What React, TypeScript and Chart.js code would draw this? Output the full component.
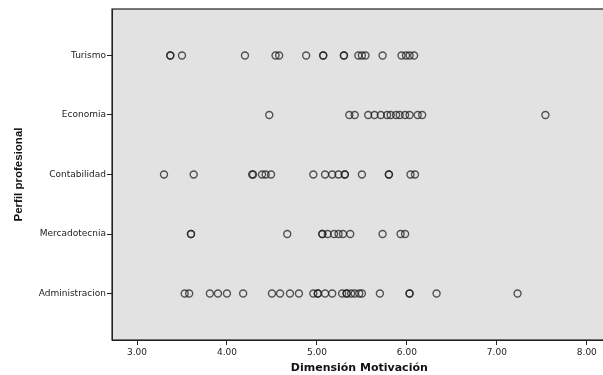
import React, { useEffect, useRef } from "react";
import { Chart, registerables } from "chart.js";

Chart.register(...registerables);

const categories = ["Administracion", "Mercadotecnia", "Contabilidad", "Economia", "Turismo"];

const administracion = [3.53, 3.58, 3.81, 3.9, 4.0, 4.18, 4.5, 4.59, 4.7, 4.8, 4.96, 5.01, 5.01, 5.09, 5.17, 5.28, 5.33, 5.33, 5.38, 5.42, 5.47, 5.5, 5.7, 6.03, 6.03, 6.33, 7.23];
const mercadotecnia = [3.6, 3.6, 4.67, 5.06, 5.06, 5.12, 5.19, 5.24, 5.29, 5.37, 5.73, 5.93, 5.98];
const contabilidad = [3.3, 3.63, 4.28, 4.29, 4.39, 4.43, 4.49, 4.96, 5.09, 5.17, 5.24, 5.31, 5.31, 5.5, 5.8, 5.8, 6.04, 6.09];
const economia = [4.47, 5.36, 5.42, 5.57, 5.64, 5.71, 5.78, 5.82, 5.88, 5.92, 5.98, 6.03, 6.12, 6.17, 7.54];
const turismo = [3.37, 3.37, 3.5, 4.2, 4.54, 4.58, 4.88, 5.07, 5.07, 5.3, 5.3, 5.46, 5.5, 5.54, 5.73, 5.94, 5.99, 6.03, 6.08];

const seriesByCategory = [administracion, mercadotecnia, contabilidad, economia, turismo];
const xTicks = [3, 4, 5, 6, 7, 8];

const bgPlugin = {
  id: "plotBg",
  beforeDraw(chart: any) {
    const { ctx, chartArea } = chart;
    ctx.save();
    ctx.fillStyle = "#e2e2e2";
    ctx.fillRect(chartArea.left, chartArea.top, chartArea.right - chartArea.left, chartArea.bottom - chartArea.top);
    ctx.restore();
  },
  afterDraw(chart: any) {
    const { ctx, chartArea } = chart;
    ctx.save();
    ctx.strokeStyle = "#222";
    ctx.lineWidth = 1.2;
    ctx.strokeRect(chartArea.left, chartArea.top, chartArea.right - chartArea.left, chartArea.bottom - chartArea.top);
    ctx.restore();
  },
};

export default function App() {
  const ref = useRef<HTMLCanvasElement>(null);
  useEffect(() => {
    document.body.style.margin = "0";
    const points: { x: number; y: number }[] = [];
    seriesByCategory.forEach((vals, i) => vals.forEach((v) => points.push({ x: v, y: i + 1 })));
    const chart = new Chart(ref.current!, {
      type: "scatter",
      data: {
        datasets: [
          {
            data: points,
            pointRadius: 3.5,
            pointBorderWidth: 1.4,
            pointBorderColor: "rgba(25,25,25,0.72)",
            pointBackgroundColor: "rgba(0,0,0,0)",
          },
        ],
      },
      options: {
        animation: false,
        responsive: false,
        layout: { padding: { top: 9, right: 0, left: 0, bottom: 0 } },
        plugins: { legend: { display: false }, tooltip: { enabled: false } },
        scales: {
          x: {
            type: "linear",
            min: 2.722,
            max: 8.22,
            afterBuildTicks: (s: any) => {
              s.ticks = xTicks.map((v) => ({ value: v }));
            },
            afterFit: (s: any) => {
              s.height = 35;
            },
            grid: { drawOnChartArea: false, drawTicks: true, tickLength: 5, color: "#222" },
            border: { display: true, color: "#222" },
            ticks: {
              color: "#222",
              font: { family: "DejaVu Sans", size: 9 },
              padding: 2,
              maxRotation: 0,
              callback: (v: any) => Number(v).toFixed(2),
            },
            title: {
              display: true,
              text: "Dimensión Motivación",
              color: "#111",
              font: { family: "DejaVu Sans", size: 11, weight: "bold" },
              padding: { top: 3, bottom: 0 },
            },
          },
          y: {
            type: "linear",
            min: 0.22,
            max: 5.78,
            afterBuildTicks: (s: any) => {
              s.ticks = categories.map((_, i) => ({ value: i + 1 }));
            },
            afterFit: (s: any) => {
              s.width = 112;
            },
            grid: { drawOnChartArea: false, drawTicks: true, tickLength: 5, color: "#222" },
            border: { display: true, color: "#222" },
            ticks: {
              color: "#222",
              font: { family: "DejaVu Sans", size: 9 },
              padding: 1,
              callback: (v: any) => categories[Math.round(Number(v)) - 1] ?? "",
            },
            title: {
              display: true,
              text: "Perfil profesional",
              color: "#111",
              font: { family: "Liberation Sans", size: 11.5, weight: "bold" },
              padding: { top: 12, bottom: 0 },
            },
          },
        },
      },
      plugins: [bgPlugin],
    });
    return () => chart.destroy();
  }, []);
  return (
    <div style={{ width: 603, height: 375, overflow: "hidden" }}>
      <canvas ref={ref} width={612} height={375} style={{ display: "block" }} />
    </div>
  );
}
